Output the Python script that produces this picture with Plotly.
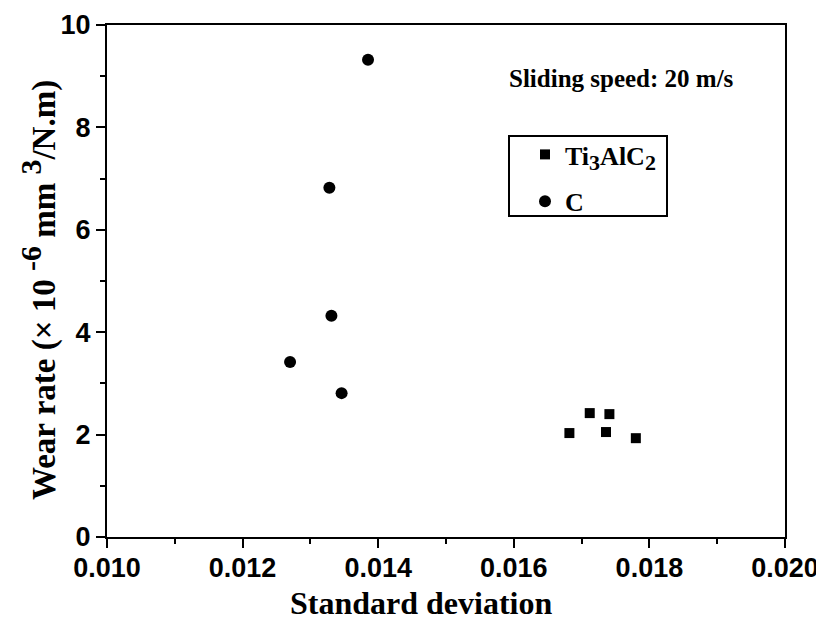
import plotly.graph_objects as go

ti_x = [0.01682, 0.01712, 0.01741, 0.01736, 0.01780]
ti_y = [2.03, 2.42, 2.40, 2.05, 1.93]
c_x = [0.01385, 0.01328, 0.01331, 0.01270, 0.01346]
c_y = [9.32, 6.82, 4.32, 3.42, 2.81]

x_ticks = [0.010, 0.012, 0.014, 0.016, 0.018, 0.020]
x_tick_labels = ["0.010", "0.012", "0.014", "0.016", "0.018", "0.020"]
y_ticks = [0, 2, 4, 6, 8, 10]

BIG = '<span style="font-size:%dpx">%s</span>'

fig = go.Figure()
fig.add_trace(go.Scatter(x=ti_x, y=ti_y, mode="markers", legendgroup="a",
                         name="<b>Ti<sub>" + BIG % (22, "3") + "</sub>AlC<sub>" + BIG % (22, "2") + "</sub></b>",
                         marker=dict(symbol="square", size=10, color="black")))
fig.add_trace(go.Scatter(x=c_x, y=c_y, mode="markers", legendgroup="b", name="<b>C</b>",
                         marker=dict(symbol="circle", size=12, color="black")))

tickfont = dict(family="Liberation Sans, Arial", size=27, color="black")
serif = "Liberation Serif, Times New Roman"

# Page body has an 8px margin; figure is sized to fit the 824x621 window.
W, H = 816, 613
L, R, T, B = 99, 39, 17, 84

def px(xw):  # window x -> paper x
    return (xw - 107) / 678

def py(yw):  # window y -> paper y
    return (537 - yw) / 512

fig.update_layout(
    width=W, height=H,
    margin=dict(l=L, r=R, t=T, b=B, autoexpand=False),
    paper_bgcolor="white", plot_bgcolor="white",
    showlegend=True,
    legend=dict(x=px(525), y=py(131), xanchor="left", yanchor="top",
                borderwidth=0, bgcolor="rgba(0,0,0,0)",
                font=dict(family=serif, size=26, color="black"),
                itemsizing="trace", traceorder="grouped", tracegroupgap=10),
    xaxis=dict(range=[0.010, 0.020], tickvals=x_ticks, ticktext=["<b>%s</b>" % t for t in x_tick_labels],
               ticks="outside", ticklen=9, tickwidth=2, tickcolor="black",
               showline=True, linewidth=2, linecolor="black", mirror=True,
               showgrid=False, zeroline=False, tickfont=tickfont, automargin=False,
               ticklabeloverflow="allow", ticklabelstandoff=-3,
               minor=dict(tickvals=[0.011, 0.013, 0.015, 0.017, 0.019], ticks="outside", ticklen=5, tickwidth=2, tickcolor="black")),
    yaxis=dict(range=[0, 10], tickvals=y_ticks, ticktext=["<b>%d</b>" % t for t in y_ticks],
               ticks="outside", ticklen=9, tickwidth=2, tickcolor="black",
               showline=True, linewidth=2, linecolor="black", mirror=True,
               showgrid=False, zeroline=False, tickfont=tickfont, automargin=False,
               minor=dict(tickvals=[1, 3, 5, 7, 9], ticks="outside", ticklen=5, tickwidth=2, tickcolor="black")),
)

# axis titles (placed as in the reference, slightly off-centre)
fig.add_annotation(text="<b>Standard deviation</b>", xref="paper", yref="paper",
                   x=px(421), y=py(603), xanchor="center", yanchor="middle", showarrow=False,
                   font=dict(family=serif, size=32, color="black"))
fig.add_annotation(text="<b>Wear rate (× 10 <sup>" + BIG % (30, "-6") + "</sup> mm <sup>" + BIG % (30, "3") + "</sup>/N.m)</b>",
                   xref="paper", yref="paper", textangle=-90,
                   x=px(38), y=py(290), xanchor="center", yanchor="middle", showarrow=False,
                   font=dict(family=serif, size=33, color="black"))

# legend frame
fig.add_shape(type="rect", xref="paper", yref="paper",
              x0=px(509), x1=px(667), y0=py(216), y1=py(136),
              line=dict(color="black", width=2), fillcolor="rgba(0,0,0,0)", layer="above")

fig.add_annotation(text="<b>Sliding speed: 20 m/s</b>", xref="paper", yref="paper",
                   x=px(621), y=py(78), xanchor="center", yanchor="middle", showarrow=False,
                   font=dict(family=serif, size=25, color="black"))

fig.write_html("out.html")
